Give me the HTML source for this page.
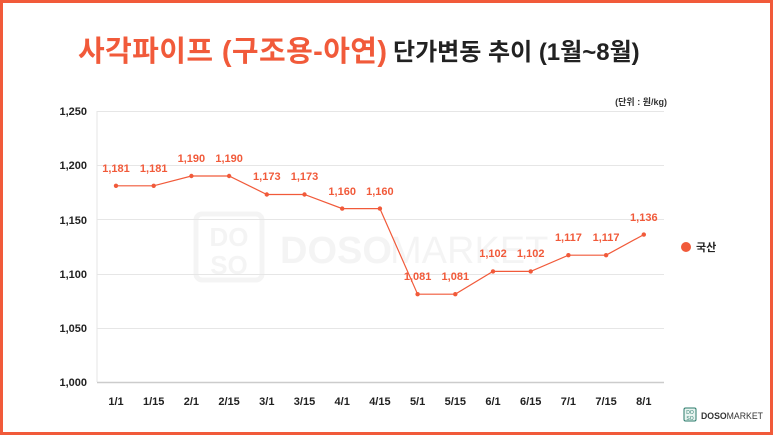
<!DOCTYPE html>
<html><head><meta charset="utf-8"><style>
html,body{margin:0;padding:0;background:#fff}
#w{position:relative;width:767px;height:429px;border:3px solid #f15a3a;overflow:hidden;font-family:"Liberation Sans","Noto Sans CJK KR",sans-serif}
</style></head><body><div id="w">
<svg width="767" height="429" viewBox="3 3 767 429" xmlns="http://www.w3.org/2000/svg" style="position:absolute;left:0;top:0">
<text x="78" y="61" font-size="29" font-weight="bold" fill="#f15a3a" letter-spacing="0.4" font-family="Liberation Sans,Noto Sans CJK KR,sans-serif">사각파이프 (구조용-아연)</text>
<text x="393" y="60" font-size="24" font-weight="bold" fill="#222" font-family="Liberation Sans,Noto Sans CJK KR,sans-serif">단가변동 추이 (1월~8월)</text>
<text x="667" y="105" font-size="9" font-weight="bold" fill="#333" text-anchor="end" font-family="Liberation Sans,Noto Sans CJK KR,sans-serif">(단위 : 원/kg)</text>
<g opacity="0.06">
<rect x="196" y="214" width="66" height="66" rx="6" fill="none" stroke="#555" stroke-width="5"/>
<text x="229" y="246" font-size="26" font-weight="bold" fill="#555" text-anchor="middle">DO</text>
<text x="229" y="274" font-size="26" font-weight="bold" fill="#555" text-anchor="middle">SO</text>
<text x="280" y="263" font-size="38" font-weight="bold" fill="#555">DOSO</text>
<text x="390" y="263" font-size="38" fill="#555">MARKET</text>
</g>
<g stroke="#e6e6e6" stroke-width="1">
<line x1="97" y1="111.5" x2="664" y2="111.5"/>
<line x1="97" y1="165.5" x2="664" y2="165.5"/>
<line x1="97" y1="219.5" x2="664" y2="219.5"/>
<line x1="97" y1="274.5" x2="664" y2="274.5"/>
<line x1="97" y1="328.5" x2="664" y2="328.5"/>
<line x1="97" y1="111" x2="97" y2="382"/>
</g>
<line x1="97" y1="382.5" x2="664" y2="382.5" stroke="#ccc" stroke-width="1.5"/>
<g font-size="11" font-weight="bold" fill="#222" text-anchor="end">
<text x="87" y="115">1,250</text><text x="87" y="169">1,200</text><text x="87" y="224">1,150</text>
<text x="87" y="278">1,100</text><text x="87" y="332">1,050</text><text x="87" y="386">1,000</text>
</g>
<g font-size="11" font-weight="bold" fill="#222" text-anchor="middle">
<text x="116" y="405">1/1</text><text x="153.7" y="405">1/15</text><text x="191.4" y="405">2/1</text><text x="229.1" y="405">2/15</text><text x="266.8" y="405">3/1</text><text x="304.5" y="405">3/15</text><text x="342.2" y="405">4/1</text><text x="379.9" y="405">4/15</text><text x="417.6" y="405">5/1</text><text x="455.3" y="405">5/15</text><text x="493" y="405">6/1</text><text x="530.7" y="405">6/15</text><text x="568.4" y="405">7/1</text><text x="606.1" y="405">7/15</text><text x="643.8" y="405">8/1</text>
</g>
<polyline fill="none" stroke="#f15a3a" stroke-width="1.2" points="116,185.8 153.7,185.8 191.4,176 229.1,176 266.8,194.5 304.5,194.5 342.2,208.6 379.9,208.6 417.6,294.2 455.3,294.2 493,271.4 530.7,271.4 568.4,255.2 606.1,255.2 643.8,234.6"/>
<g fill="#f15a3a">
<circle cx="116" cy="185.8" r="2.2"/><circle cx="153.7" cy="185.8" r="2.2"/><circle cx="191.4" cy="176" r="2.2"/><circle cx="229.1" cy="176" r="2.2"/><circle cx="266.8" cy="194.5" r="2.2"/><circle cx="304.5" cy="194.5" r="2.2"/><circle cx="342.2" cy="208.6" r="2.2"/><circle cx="379.9" cy="208.6" r="2.2"/><circle cx="417.6" cy="294.2" r="2.2"/><circle cx="455.3" cy="294.2" r="2.2"/><circle cx="493" cy="271.4" r="2.2"/><circle cx="530.7" cy="271.4" r="2.2"/><circle cx="568.4" cy="255.2" r="2.2"/><circle cx="606.1" cy="255.2" r="2.2"/><circle cx="643.8" cy="234.6" r="2.2"/>
</g>
<g font-size="11" font-weight="bold" fill="#f15a3a" text-anchor="middle">
<text x="116" y="172">1,181</text><text x="153.7" y="172">1,181</text><text x="191.4" y="162">1,190</text><text x="229.1" y="162">1,190</text><text x="266.8" y="180">1,173</text><text x="304.5" y="180">1,173</text><text x="342.2" y="195">1,160</text><text x="379.9" y="195">1,160</text><text x="417.6" y="280">1,081</text><text x="455.3" y="280">1,081</text><text x="493" y="257">1,102</text><text x="530.7" y="257">1,102</text><text x="568.4" y="241">1,117</text><text x="606.1" y="241">1,117</text><text x="643.8" y="221">1,136</text>
</g>
<circle cx="686" cy="247" r="5" fill="#f15a3a"/>
<text x="696" y="251" font-size="11" font-weight="bold" fill="#222">국산</text>
<rect x="684" y="408" width="12" height="13" rx="1.5" fill="#e8f4f0" stroke="#2a7a6a" stroke-width="1"/>
<text x="690" y="414" font-size="5" fill="#2a7a6a" text-anchor="middle">DO</text>
<text x="690" y="420" font-size="5" fill="#2a7a6a" text-anchor="middle">SO</text>
<text x="701" y="419" font-size="9" font-weight="bold" fill="#333" textLength="62" lengthAdjust="spacingAndGlyphs">DOSO<tspan font-weight="normal">MARKET</tspan></text>
</svg>
</div></body></html>
